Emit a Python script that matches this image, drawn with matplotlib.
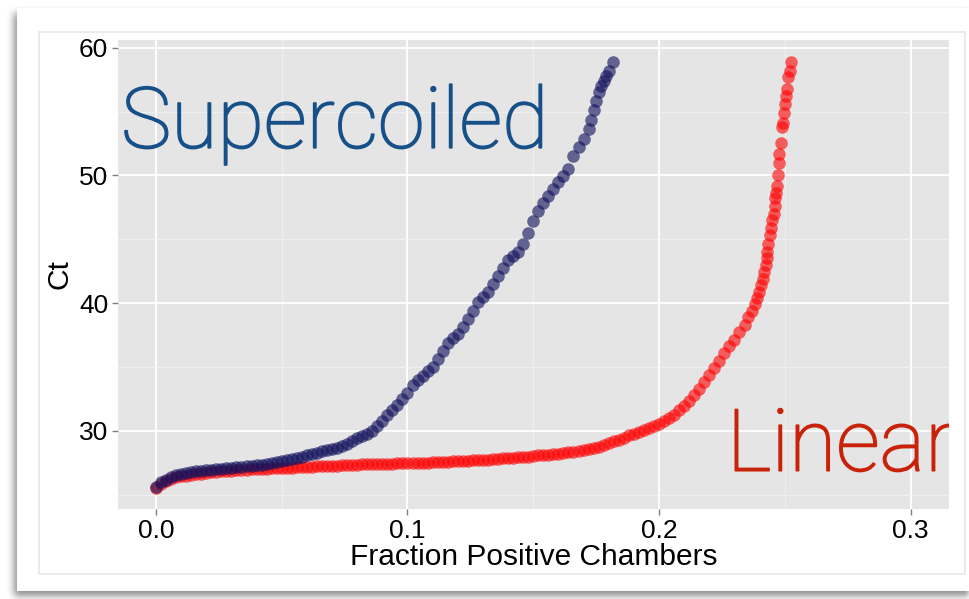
import numpy as np
import matplotlib
matplotlib.use("Agg")
import matplotlib.pyplot as plt
import matplotlib.patheffects as pe
from matplotlib.patches import Rectangle

# (fraction of positive chambers, Ct) for each plasmid form
linear_pts = [
    (0.000, 25.55), (0.002, 25.85), (0.004, 26.05), (0.006, 26.22), (0.008, 26.34),
    (0.010, 26.42), (0.012, 26.48), (0.014, 26.53), (0.016, 26.60), (0.018, 26.65),
    (0.020, 26.70), (0.022, 26.74), (0.024, 26.78), (0.026, 26.81), (0.028, 26.84),
    (0.030, 26.87), (0.032, 26.90), (0.034, 26.93), (0.036, 26.95), (0.038, 26.97),
    (0.040, 26.99), (0.042, 27.01), (0.044, 27.03), (0.046, 27.05), (0.048, 27.07),
    (0.050, 27.08), (0.052, 27.10), (0.054, 27.12), (0.056, 27.14), (0.058, 27.15),
    (0.060, 27.17), (0.062, 27.19), (0.064, 27.20), (0.066, 27.22), (0.068, 27.24),
    (0.070, 27.26), (0.072, 27.27), (0.074, 27.29), (0.076, 27.31), (0.078, 27.33),
    (0.080, 27.35), (0.082, 27.36), (0.084, 27.37), (0.086, 27.38), (0.088, 27.40),
    (0.090, 27.41), (0.092, 27.42), (0.094, 27.43), (0.096, 27.44), (0.098, 27.45),
    (0.100, 27.46), (0.102, 27.47), (0.104, 27.49), (0.106, 27.50), (0.108, 27.51),
    (0.110, 27.53), (0.112, 27.54), (0.114, 27.56), (0.116, 27.58), (0.118, 27.60),
    (0.120, 27.62), (0.122, 27.64), (0.124, 27.66), (0.126, 27.68), (0.128, 27.70),
    (0.130, 27.72), (0.132, 27.74), (0.134, 27.77), (0.136, 27.80), (0.138, 27.83),
    (0.140, 27.85), (0.142, 27.88), (0.144, 27.91), (0.146, 27.94), (0.148, 27.98),
    (0.150, 28.02), (0.152, 28.06), (0.154, 28.10), (0.156, 28.13), (0.158, 28.17),
    (0.160, 28.20), (0.162, 28.25), (0.164, 28.30), (0.166, 28.35), (0.168, 28.40),
    (0.170, 28.48), (0.172, 28.56), (0.174, 28.65), (0.176, 28.76), (0.178, 28.88),
    (0.180, 29.00), (0.182, 29.16), (0.184, 29.30), (0.186, 29.45), (0.188, 29.66),
    (0.190, 29.78), (0.192, 29.90), (0.194, 30.05), (0.196, 30.20), (0.198, 30.37),
    (0.200, 30.55), (0.202, 30.75), (0.204, 31.00), (0.206, 31.25), (0.208, 31.60),
    (0.210, 31.95), (0.212, 32.35), (0.214, 32.80), (0.216, 33.30), (0.218, 33.85),
    (0.220, 34.40), (0.222, 34.95), (0.224, 35.45), (0.226, 36.05), (0.228, 36.60),
    (0.230, 37.10), (0.232, 37.70), (0.234, 38.25), (0.2355, 38.90), (0.2368, 39.40),
    (0.2380, 39.90), (0.2390, 40.40), (0.2399, 40.90), (0.2406, 41.40), (0.2413, 41.90),
    (0.2418, 42.40), (0.2424, 43.00), (0.2428, 43.50), (0.2430, 44.00), (0.2434, 44.60),
    (0.2440, 45.30), (0.2445, 45.90), (0.2450, 46.50), (0.2457, 47.00), (0.2460, 47.60),
    (0.2463, 48.20), (0.2466, 48.60), (0.2469, 49.20), (0.2473, 50.00), (0.2476, 51.00),
    (0.2477, 51.70), (0.2485, 52.50), (0.2489, 53.75), (0.2493, 54.10), (0.2497, 54.90),
    (0.2501, 55.60), (0.2505, 56.25), (0.2509, 56.80), (0.2513, 57.70), (0.2521, 58.20),
    (0.2525, 58.85),
]

supercoiled_pts = [
    (0.000, 25.60), (0.002, 25.95), (0.004, 26.18), (0.006, 26.38), (0.008, 26.52),
    (0.010, 26.62), (0.012, 26.70), (0.014, 26.76), (0.016, 26.82), (0.018, 26.87),
    (0.020, 26.92), (0.022, 26.96), (0.024, 27.00), (0.026, 27.04), (0.028, 27.08),
    (0.030, 27.11), (0.032, 27.15), (0.034, 27.18), (0.036, 27.22), (0.038, 27.26),
    (0.040, 27.30), (0.042, 27.35), (0.044, 27.40), (0.046, 27.46), (0.048, 27.53),
    (0.050, 27.60), (0.052, 27.68), (0.054, 27.77), (0.056, 27.86), (0.058, 27.96),
    (0.060, 28.06), (0.062, 28.16), (0.064, 28.27), (0.066, 28.38), (0.068, 28.48),
    (0.070, 28.58), (0.072, 28.68), (0.074, 28.80), (0.076, 28.98), (0.078, 29.20),
    (0.080, 29.40), (0.082, 29.58), (0.084, 29.75), (0.086, 30.00), (0.088, 30.40),
    (0.090, 30.80), (0.092, 31.20), (0.094, 31.60), (0.096, 32.00), (0.098, 32.45),
    (0.100, 32.95), (0.102, 33.60), (0.104, 34.00), (0.106, 34.30), (0.108, 34.65),
    (0.110, 35.00), (0.112, 35.60), (0.114, 36.25), (0.116, 36.90), (0.118, 37.25),
    (0.120, 37.55), (0.122, 38.10), (0.124, 38.75), (0.126, 39.40), (0.128, 40.05),
    (0.130, 40.50), (0.132, 40.90), (0.134, 41.50), (0.136, 42.10), (0.138, 42.75),
    (0.140, 43.40), (0.142, 43.70), (0.144, 44.00), (0.146, 44.60), (0.148, 45.45),
    (0.150, 46.40), (0.152, 47.20), (0.154, 47.85), (0.156, 48.40), (0.158, 48.90),
    (0.160, 49.45), (0.162, 49.95), (0.164, 50.50), (0.166, 51.50), (0.168, 52.20),
    (0.170, 52.85), (0.172, 53.60), (0.173, 54.30), (0.174, 55.10), (0.175, 55.80),
    (0.176, 56.50), (0.177, 57.00), (0.178, 57.40), (0.179, 57.80), (0.180, 58.20),
    (0.1817, 58.85),
]

x_ticks = [0.0, 0.1, 0.2, 0.3]
x_labels = ["0.0", "0.1", "0.2", "0.3"]
y_ticks = [30, 40, 50, 60]
y_labels = ["30", "40", "50", "60"]

W, H = 970, 599
fig = plt.figure(figsize=(W / 100, H / 100), dpi=100, facecolor="white")


def box(x0, y0, x1, y1):
    # pixel box (top-left origin) -> figure fraction rectangle args
    return (x0 / W, 1 - y1 / H), (x1 - x0) / W, (y1 - y0) / H


# soft drop shadow under the card
mask = np.zeros((H, W))
mask[13:596, 14:W] = 1.0
k = np.ones(9) / 9
for _ in range(2):
    mask = np.apply_along_axis(lambda r: np.convolve(r, k, mode="same"), 1, mask)
    mask = np.apply_along_axis(lambda c: np.convolve(c, k, mode="same"), 0, mask)
shadow = np.zeros((H, W, 4))
shadow[..., :3] = 0.25
shadow[..., 3] = mask * 0.6
fig.figimage(shadow, 0, 0, zorder=-3, origin="upper")

xy, w, h = box(17, 8, W + 5, 591)
fig.add_artist(Rectangle(xy, w, h, transform=fig.transFigure,
                         facecolor="white", edgecolor="none", zorder=-2))
xy, w, h = box(39, 32, 965, 574)
fig.add_artist(Rectangle(xy, w, h, transform=fig.transFigure,
                         facecolor="white", edgecolor="#e8e8e8", lw=1.2, zorder=-1))

ax = fig.add_axes([118 / W, 1 - 509 / H, 831 / W, 469 / H])
ax.set_facecolor("#e5e5e5")
ax.set_xlim(-0.0151, 0.3153)
ax.set_ylim(23.87, 60.6)

for s in ax.spines.values():
    s.set_visible(False)

ax.set_xticks(x_ticks)
ax.set_xticklabels(x_labels)
ax.set_yticks(y_ticks)
ax.set_yticklabels(y_labels)
ax.set_xticks([0.05, 0.15, 0.25], minor=True)
ax.set_yticks([25, 35, 45, 55], minor=True)
ax.grid(which="major", color="white", lw=1.3)
ax.grid(which="minor", color="#f2f2f2", lw=0.6)
ax.set_axisbelow(True)
ax.tick_params(which="major", length=4, width=1, color="#7f7f7f",
               labelsize=19, labelcolor="black", pad=3)
ax.tick_params(which="minor", length=0)
for lab in ax.get_xticklabels() + ax.get_yticklabels():
    lab.set_family("Liberation Sans")

lin = np.array(linear_pts)
sc = np.array(supercoiled_pts)
ax.scatter(lin[:, 0], lin[:, 1], s=82, color="#ff0000", alpha=0.6, lw=0)
ax.scatter(sc[:, 0], sc[:, 1], s=82, color="#12125e", alpha=0.62, lw=0)

ax.set_xlabel("Fraction Positive Chambers", fontsize=21.5, family="Liberation Sans",
              labelpad=0)
ax.set_ylabel("Ct", fontsize=21.5, family="Liberation Sans", labelpad=4)

ax.text(-0.0139, 52.16, "Supercoiled", fontsize=61, color="#175089",
        family=["Roboto", "DejaVu Sans"], fontweight="light", va="baseline",
        path_effects=[pe.withStroke(linewidth=1.2, foreground="#175089")])
ax.text(0.227, 26.87, "Linear", fontsize=62, color="#c8230a",
        family=["Roboto", "DejaVu Sans"], fontweight="light", va="baseline",
        clip_on=True,
        path_effects=[pe.withStroke(linewidth=1.2, foreground="#c8230a")])

fig.savefig("out.png", dpi=100, facecolor="white")
